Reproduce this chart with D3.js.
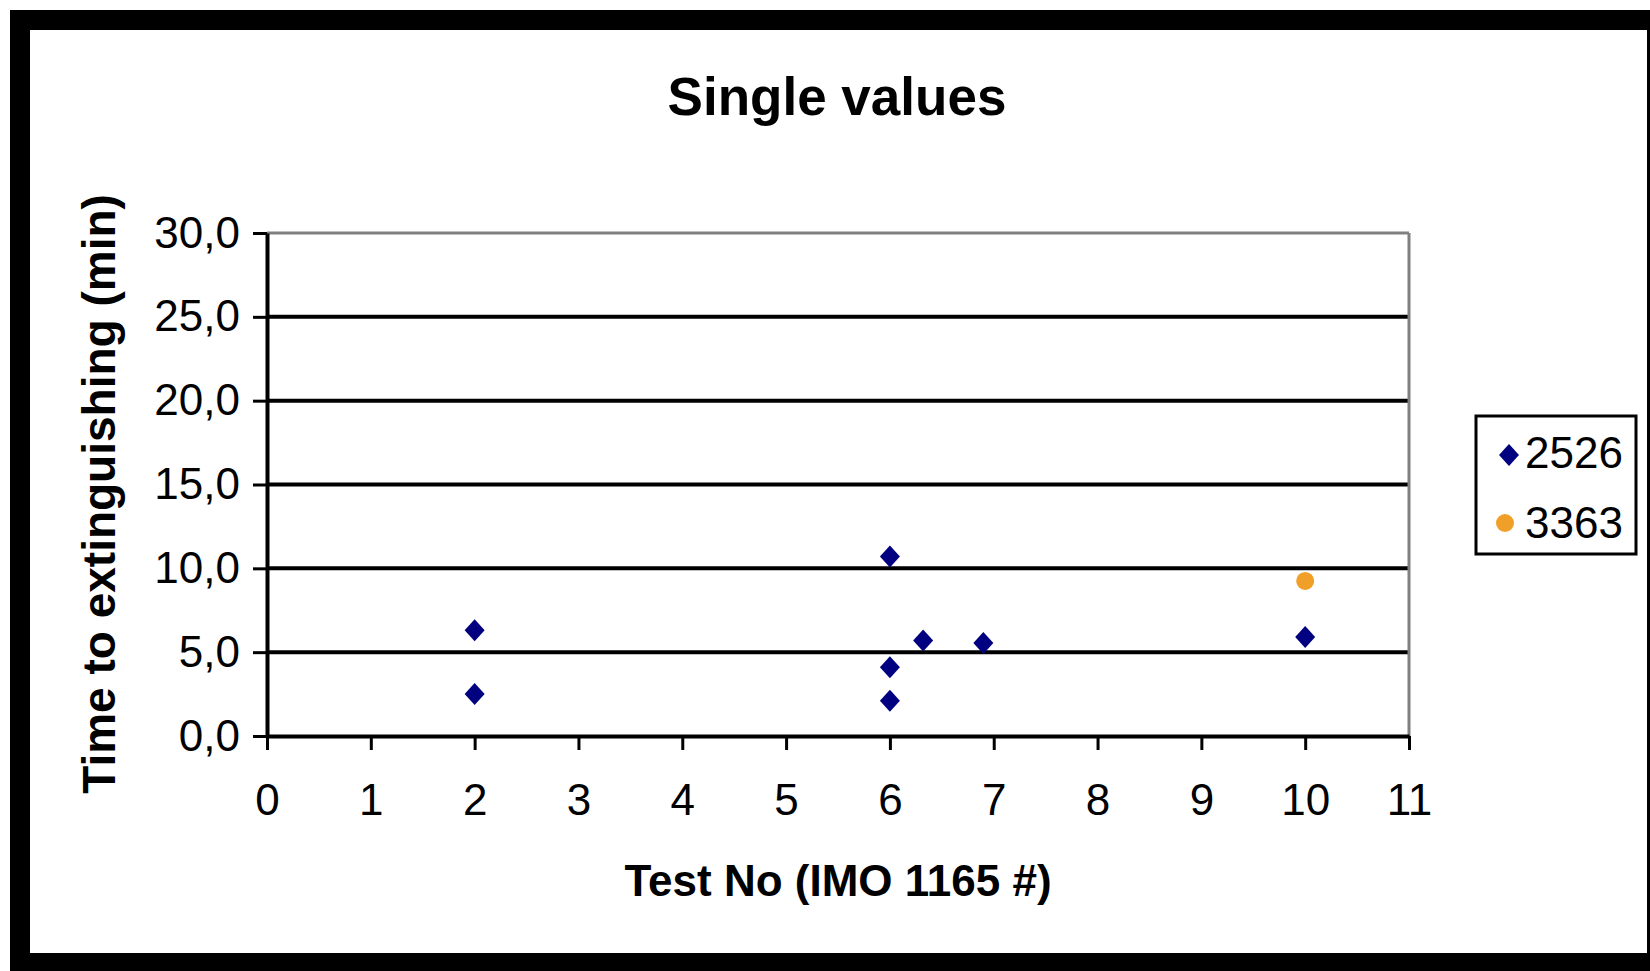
<!DOCTYPE html>
<html>
<head>
<meta charset="utf-8">
<script src="https://cdn.jsdelivr.net/npm/d3@7"></script>
<style>
  body { margin: 0; background: #fff; }
  svg { display: block; }
  text { font-family: "Liberation Sans", Arial, sans-serif; fill: #000; }
</style>
</head>
<body>
<svg width="1650" height="971"></svg>
<script>
// data
const seriesNames = ["2526", "3363"];
const xs2526 = [2, 2, 6, 6, 6, 6.32, 6.9, 10];
const ys2526 = [6.3, 2.5, 10.7, 4.1, 2.1, 5.7, 5.55, 5.9];
const xs3363 = [10];
const ys3363 = [9.25];
const xTicks = [0, 1, 2, 3, 4, 5, 6, 7, 8, 9, 10, 11];
const yTicks = [0, 5, 10, 15, 20, 25, 30];

const navy = "#000080";
const orange = "#F0A028";

const svg = d3.select("svg");

// outer frame (cut off on right and bottom like the source)
svg.append("rect")
    .attr("x", 20).attr("y", 20)
    .attr("width", 1637).attr("height", 943)
    .attr("fill", "#fff")
    .attr("stroke", "#000")
    .attr("stroke-width", 20);

const x = d3.scaleLinear().domain([0, 11]).range([267, 1409]);
const y = d3.scaleLinear().domain([0, 30]).range([736, 233]);

//gridlines
svg.append("g")
    .selectAll("line")
    .data(yTicks.filter(d => d > 0))
    .join("line")
    .attr("x1", x(0)).attr("x2", x(11))
    .attr("y1", d => y(d)).attr("y2", d => y(d))
    .attr("stroke", d => d === 30 ? "#808080" : "#000")
    .attr("stroke-width", d => d === 30 ? 3 : 4);

// right border of plot area
svg.append("line")
    .attr("x1", x(11)).attr("x2", x(11))
    .attr("y1", y(30)).attr("y2", y(0))
    .attr("stroke", "#808080")
    .attr("stroke-width", 3);

// axes
const xAxis = svg.append("g")
    .attr("transform", `translate(0,${y(0)})`)
    .call(d3.axisBottom(x).tickValues(xTicks).tickSize(14).tickSizeOuter(0).tickPadding(34).tickFormat(d => d));

const yAxis = svg.append("g")
    .attr("transform", `translate(${x(0)},0)`)
    .call(d3.axisLeft(y).tickValues(yTicks).tickSize(14).tickSizeOuter(0).tickPadding(13)
        .tickFormat(d => d.toFixed(1).replace(".", ",")));

[xAxis, yAxis].forEach(g => {
    g.select(".domain").attr("stroke", "#000").attr("stroke-width", 4);
    g.selectAll(".tick line").attr("stroke", "#000").attr("stroke-width", 3);
    g.selectAll(".tick text")
        .style("font-family", '"Liberation Sans", Arial, sans-serif')
        .style("font-size", "44px")
        .attr("fill", "#000");
});

// diamond marker like the old excel one
const diamond = {
    draw(ctx, size) {
        const w = Math.sqrt(size) / 2, h = w * 1.1;
        ctx.moveTo(0, -h);
        ctx.lineTo(w, 0);
        ctx.lineTo(0, h);
        ctx.lineTo(-w, 0);
        ctx.closePath();
    }
};
const diamondPath = d3.symbol().type(diamond).size(400)();

const pts2526 = xs2526.map((v, i) => [v, ys2526[i]]);
const pts3363 = xs3363.map((v, i) => [v, ys3363[i]]);

svg.append("g")
    .selectAll("path")
    .data(pts2526)
    .join("path")
    .attr("d", diamondPath)
    .attr("transform", d => `translate(${x(d[0])},${y(d[1])})`)
    .attr("fill", navy);

svg.append("g")
    .selectAll("circle")
    .data(pts3363)
    .join("circle")
    .attr("cx", d => x(d[0]))
    .attr("cy", d => y(d[1]))
    .attr("r", 9)
    .attr("fill", orange);

// titles
svg.append("text")
    .attr("x", 837).attr("y", 115)
    .attr("text-anchor", "middle")
    .style("font-size", "53px").style("font-weight", "bold")
    .text("Single values");

svg.append("text")
    .attr("x", 838).attr("y", 896)
    .attr("text-anchor", "middle")
    .style("font-size", "44px").style("font-weight", "bold")
    .text("Test No (IMO 1165 #)");

svg.append("text")
    .attr("transform", "translate(115,494) rotate(-90)")
    .attr("text-anchor", "middle")
    .style("font-size", "46px").style("font-weight", "bold")
    .text("Time to extinguishing (min)");

// legend
const legend = svg.append("g");
legend.append("rect")
    .attr("x", 1476).attr("y", 416)
    .attr("width", 160).attr("height", 138)
    .attr("fill", "#fff")
    .attr("stroke", "#000")
    .attr("stroke-width", 3);

const legendRows = [
    { name: seriesNames[0], color: navy, shape: "diamond", cy: 455, base: 468 },
    { name: seriesNames[1], color: orange, shape: "circle", cy: 523, base: 538 }
];
legendRows.forEach(r => {
    if (r.shape === "diamond") {
        legend.append("path")
            .attr("d", diamondPath)
            .attr("transform", `translate(1509,${r.cy})`)
            .attr("fill", r.color);
    } else {
        legend.append("circle")
            .attr("cx", 1505).attr("cy", r.cy).attr("r", 9)
            .attr("fill", r.color);
    }
    legend.append("text")
        .attr("x", 1525).attr("y", r.base)
        .style("font-size", "44px")
        .text(r.name);
});
</script>
</body>
</html>
